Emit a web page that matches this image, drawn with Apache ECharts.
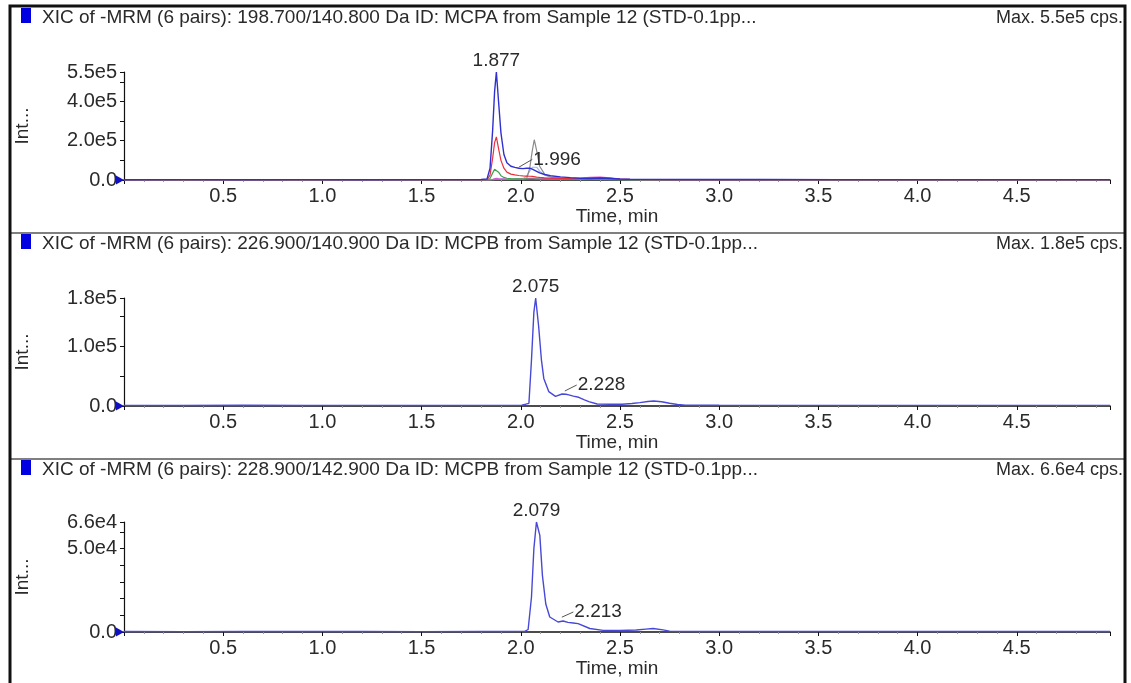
<!DOCTYPE html>
<html>
<head>
<meta charset="utf-8">
<script src="https://cdn.jsdelivr.net/npm/echarts@6/dist/echarts.min.js"></script>
<style>
  html, body { margin: 0; padding: 0; background: #fff; }
  #chart { width: 1131px; height: 683px; }
</style>
</head>
<body>
<div id="chart"></div>
<script>
// panel 1: 198.700/140.800 Da (MCPA), six traces
const time1 = [0, 0.3, 0.6, 0.9, 1.2, 1.5, 1.7, 1.80, 1.83, 1.845, 1.858, 1.868, 1.877, 1.888, 1.90, 1.915, 1.93, 1.95, 1.97, 1.99,
  2.01, 2.03, 2.045, 2.058, 2.068, 2.08, 2.095, 2.12, 2.15, 2.2, 2.25, 2.3, 2.35, 2.4, 2.45, 2.5, 2.55, 2.65, 2.8, 3.2, 3.6, 4.0, 4.5, 4.97];
const blue1 = [1500, 1800, 1500, 1700, 1600, 1800, 2000, 2500, 6000, 60000, 250000, 450000, 550000, 400000, 240000, 130000, 88000, 70000, 64000, 60000,
  58000, 60000, 60000, 55000, 50000, 44000, 36000, 28000, 22000, 16000, 12000, 9000, 8000, 10000, 8000, 5000, 3500, 3000, 2500, 2200, 2000, 2000, 1800, 1700];
const red1 = [500, 500, 500, 500, 500, 600, 700, 900, 2000, 25000, 110000, 190000, 220000, 160000, 100000, 60000, 40000, 30000, 26000, 23000,
  21000, 20000, 19000, 18000, 17000, 15000, 13000, 11000, 9000, 8000, 7000, 8000, 10000, 12000, 9000, 5000, 3000, 1500, 800, 600, 500, 500, 500, 500];
const green1 = [300, 300, 300, 300, 300, 300, 300, 400, 1000, 8000, 35000, 55000, 60000, 40000, 22000, 13000, 9000, 7000, 6000, 5500,
  5000, 5000, 5000, 5000, 5000, 4500, 4000, 3500, 3000, 2500, 2000, 2000, 1800, 1500, 1200, 1000, 800, 500, 400, 300, 300, 300, 300, 300];
const gray1 = [500, 500, 500, 500, 500, 500, 500, 500, 500, 800, 1500, 2000, 2500, 2500, 2500, 2500, 2500, 2500, 3000, 3500,
  4000, 8000, 60000, 150000, 205000, 150000, 70000, 30000, 15000, 10000, 8000, 6000, 5000, 4000, 3000, 2000, 1500, 1000, 800, 600, 500, 500, 500, 500];
const lightBlue1 = [300, 300, 300, 300, 300, 300, 300, 300, 500, 1000, 2000, 2500, 3000, 3000, 3000, 3000, 3000, 3000, 3000, 3000,
  5000, 20000, 45000, 65000, 72000, 65000, 45000, 25000, 14000, 9000, 6000, 4000, 3000, 2500, 2000, 1500, 1000, 600, 400, 300, 300, 300, 300, 300];
const magenta1 = [300, 300, 300, 300, 300, 300, 300, 400, 800, 1500, 3000, 6000, 8000, 7000, 6000, 5500, 5000, 5000, 5000, 5500,
  6000, 7000, 8000, 8500, 9000, 9000, 9000, 8500, 8000, 8000, 8500, 10000, 13000, 15000, 11000, 5000, 2000, 800, 500, 300, 300, 300, 300, 300];

// panel 2: 226.900/140.900 Da (MCPB)
const time2 = [0, 0.3, 0.6, 0.9, 1.2, 1.5, 1.8, 1.95, 2.005, 2.025, 2.041, 2.054, 2.066, 2.075, 2.09, 2.104, 2.116, 2.141, 2.175, 2.208,
  2.228, 2.242, 2.265, 2.292, 2.318, 2.343, 2.385, 2.45, 2.51, 2.56, 2.6, 2.64, 2.67, 2.71, 2.75, 2.79, 2.83, 3.0, 3.4, 3.8, 4.2, 4.6, 4.97];
const blue2 = [1000, 800, 1200, 900, 1000, 900, 1100, 1000, 1200, 3000, 4500, 77000, 156000, 180000, 133000, 77000, 46000, 24000, 16000, 20000,
  19500, 18500, 16500, 14500, 10500, 7300, 3400, 3000, 3000, 4200, 5600, 7500, 8400, 7000, 4500, 2500, 1500, 1200, 1100, 1000, 1000, 1000, 1100];

// panel 3: 228.900/142.900 Da (MCPB)
const time3 = [0, 0.3, 0.6, 0.9, 1.2, 1.5, 1.8, 1.95, 2.02, 2.037, 2.054, 2.066, 2.079, 2.096, 2.109, 2.126, 2.146, 2.188, 2.213, 2.238,
  2.264, 2.289, 2.348, 2.415, 2.5, 2.582, 2.63, 2.667, 2.717, 2.75, 2.8, 3.0, 3.4, 3.8, 4.2, 4.6, 4.97];
const blue3 = [300, 250, 300, 280, 300, 250, 300, 300, 400, 1500, 21000, 50000, 66000, 58000, 34000, 16800, 9000, 6000, 6600, 5800,
  5400, 5000, 2100, 1000, 900, 1200, 1700, 2100, 1300, 500, 300, 300, 300, 300, 300, 300, 300];

// axis tick labels and header texts
const xLabelTicks = [0.5, 1.0, 1.5, 2.0, 2.5, 3.0, 3.5, 4.0, 4.5];
const yLabels1 = [0, 200000, 400000, 550000];
const yLabels2 = [0, 100000, 180000];
const yLabels3 = [0, 50000, 66000];
const titles = [
  'XIC of -MRM (6 pairs): 198.700/140.800 Da ID: MCPA from Sample 12 (STD-0.1pp...',
  'XIC of -MRM (6 pairs): 226.900/140.900 Da ID: MCPB from Sample 12 (STD-0.1pp...',
  'XIC of -MRM (6 pairs): 228.900/142.900 Da ID: MCPB from Sample 12 (STD-0.1pp...'
];
const maxTexts = ['Max. 5.5e5 cps.', 'Max. 1.8e5 cps.', 'Max. 6.6e4 cps.'];

const FONT = '"Liberation Sans", Arial, sans-serif';
const TXT = '#2a2a2a';

const zip = (t, v) => t.map((x, i) => [x, v[i]]);
const sci = v => v === 0 ? '0.0' : v.toExponential(1).replace('+', '');

const chart = echarts.init(document.getElementById('chart'), null, { renderer: 'canvas' });

function xAxis(idx) {
  return {
    type: 'value', gridIndex: idx, min: 0, max: 4.97, interval: 0.5,
    name: 'Time, min', nameLocation: 'middle', nameGap: 27,
    nameTextStyle: { fontSize: 19, color: TXT, fontFamily: FONT },
    axisLine: { show: true, onZero: false, lineStyle: { color: '#111', width: 1.5 } },
    axisTick: { show: true, length: 4, lineStyle: { color: '#111' } },
    minorTick: { show: true, splitNumber: 5, length: 2, lineStyle: { color: '#999' } },
    axisLabel: {
      fontSize: 20, color: TXT, fontFamily: FONT, margin: 6,
      showMinLabel: false, showMaxLabel: false,
      formatter: v => xLabelTicks.some(t => Math.abs(t - v) < 1e-6) ? v.toFixed(1) : ''
    },
    splitLine: { show: false }
  };
}

function yAxis(idx, max, interval, labels) {
  return {
    type: 'value', gridIndex: idx, min: 0, max: max, interval: interval,
    name: 'Int...', nameLocation: 'middle', nameGap: 92,
    nameTextStyle: { fontSize: 19, color: TXT, fontFamily: FONT },
    axisLine: { show: true, lineStyle: { color: '#111', width: 1.2 } },
    axisTick: { show: true, length: 4, lineStyle: { color: '#111' } },
    axisLabel: {
      fontSize: 20, color: TXT, fontFamily: FONT, margin: 7,
      formatter: v => labels.some(l => Math.abs(l - v) < 1) ? sci(v) : ''
    },
    splitLine: { show: false }
  };
}

function trace(idx, t, v, color, width) {
  return {
    type: 'line', xAxisIndex: idx, yAxisIndex: idx, data: zip(t, v),
    showSymbol: false, symbol: 'none', silent: true,
    lineStyle: { color: color, width: width || 1.2 }
  };
}

// peak apex label + leader-line label, plus the small marker at the origin
function annotate(s, apex, leader) {
  const lbl = pos => ({ show: true, position: pos, distance: pos === 'top' ? 2 : 1, formatter: '{b}', fontSize: 19, color: TXT, fontFamily: FONT });
  s.markPoint = {
    silent: true, animation: false,
    data: [
      { coord: [0, 0], symbol: 'triangle', symbolSize: [9, 8], symbolRotate: -90, symbolOffset: [-4, 0],
        itemStyle: { color: '#1010c0' }, label: { show: false } },
      { coord: [apex.t, apex.v], symbolSize: 0, name: apex.text, label: lbl('top') },
      { coord: leader.to, symbolSize: 0, name: leader.text, label: lbl('right') }
    ]
  };
  s.markLine = {
    silent: true, animation: false, symbol: ['none', 'none'],
    lineStyle: { color: '#555', width: 1, type: 'solid' }, label: { show: false },
    data: [[{ coord: leader.from }, { coord: leader.to }]]
  };
  return s;
}

const graphics = [
  { type: 'rect', shape: { x: 10, y: 6, width: 1115, height: 720 }, style: { fill: 'none', stroke: '#111', lineWidth: 3 }, z: 10 },
  { type: 'line', shape: { x1: 10, y1: 233, x2: 1125, y2: 233 }, style: { stroke: '#555', lineWidth: 1.5 } },
  { type: 'line', shape: { x1: 10, y1: 459, x2: 1125, y2: 459 }, style: { stroke: '#555', lineWidth: 1.5 } }
];
[18, 244, 470].forEach((y, i) => {
  graphics.push({ type: 'rect', shape: { x: 21, y: y - 10, width: 10, height: 15 }, style: { fill: '#0000e0' } });
  graphics.push({ type: 'text', style: { x: 42, y: y, text: titles[i], font: '19px ' + FONT, fill: TXT, verticalAlign: 'middle' } });
  graphics.push({ type: 'text', style: { x: 1123, y: y, text: maxTexts[i], font: '18px ' + FONT, fill: TXT, align: 'right', verticalAlign: 'middle' } });
});

const option = {
  animation: false,
  backgroundColor: '#fff',
  grid: [
    { left: 124, top: 72, width: 986, height: 108 },
    { left: 124, top: 298, width: 986, height: 108 },
    { left: 124, top: 522, width: 986, height: 110 }
  ],
  xAxis: [xAxis(0), xAxis(1), xAxis(2)],
  yAxis: [
    yAxis(0, 550000, 100000, yLabels1),
    yAxis(1, 180000, 50000, yLabels2),
    yAxis(2, 66000, 10000, yLabels3)
  ],
  series: [
    trace(0, time1, magenta1, '#d848c8'),
    trace(0, time1, lightBlue1, '#a0b8f0'),
    trace(0, time1, gray1, '#8a8a8a'),
    trace(0, time1, green1, '#40a050'),
    trace(0, time1, red1, '#e8303c'),
    annotate(trace(0, time1, blue1, '#3030d0', 1.4),
      { t: 1.877, v: 550000, text: '1.877' },
      { from: [1.99, 65000], to: [2.058, 105000], text: '1.996' }),
    annotate(trace(1, time2, blue2, '#4848d8', 1.4),
      { t: 2.075, v: 180000, text: '2.075' },
      { from: [2.222, 25000], to: [2.282, 35000], text: '2.228' }),
    annotate(trace(2, time3, blue3, '#4848d8', 1.4),
      { t: 2.079, v: 66000, text: '2.079' },
      { from: [2.207, 8900], to: [2.265, 12000], text: '2.213' })
  ],
  graphic: graphics
};

chart.setOption(option);
</script>
</body>
</html>
